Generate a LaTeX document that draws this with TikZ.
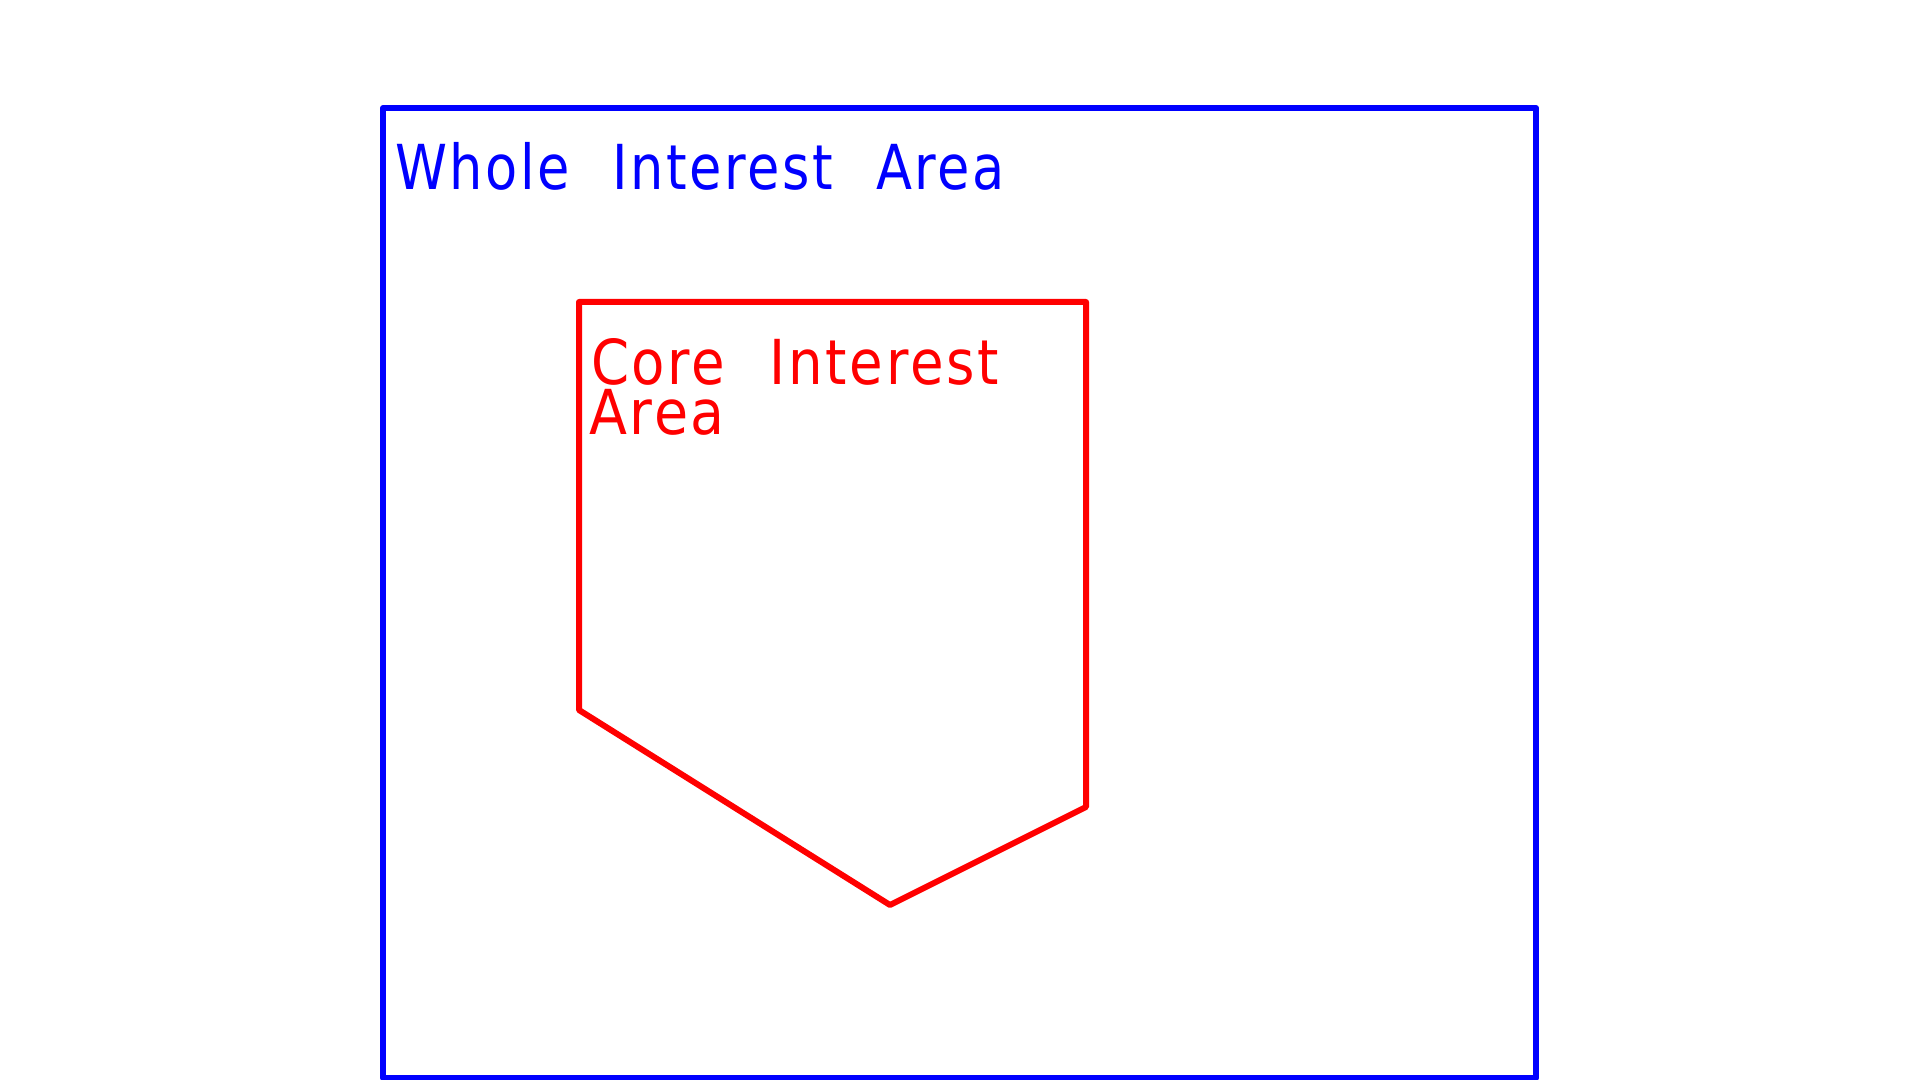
\documentclass[tikz,border=0pt]{standalone}
\usepackage{fontspec}
\setmainfont{DejaVu Sans}[LetterSpace=5, WordSpace=2.2]
\usepackage{graphicx}
\definecolor{pureblue}{RGB}{0,0,255}
\definecolor{purered}{RGB}{255,0,0}
\tikzset{
  areaedge/.style={line width=3pt, line join=round, line cap=round},
  arealabel/.style={anchor=base west, inner sep=0pt, outer sep=0pt, font=\fontsize{31}{37}\selectfont}
}
\begin{document}
\begin{tikzpicture}[x=0.5pt, y=-0.5pt]
\useasboundingbox (0,0) rectangle (1920,1080);
\fill[white] (0,0) rectangle (1920,1080);
% whole interest area
\draw[areaedge, pureblue] (383,108) rectangle (1536,1078);
\node[arealabel, text=pureblue] (whole) at (395,190) {\resizebox{305pt}{\height}{Whole Interest Area}};
% core interest area
\coordinate (c1) at (579,302);
\coordinate (c2) at (1086,302);
\coordinate (c3) at (1086,807);
\coordinate (c4) at (890,905);
\coordinate (c5) at (579,710);
\draw[areaedge, purered] (c1) -- (c2) -- (c3) -- (c4) -- (c5) -- cycle;
\node[arealabel, text=purered] (core1) at (591,384) {\resizebox{204pt}{\height}{Core Interest}};
\node[arealabel, text=purered] (core2) at (589,434) {\resizebox{68pt}{\height}{Area}};
\end{tikzpicture}
\end{document}
